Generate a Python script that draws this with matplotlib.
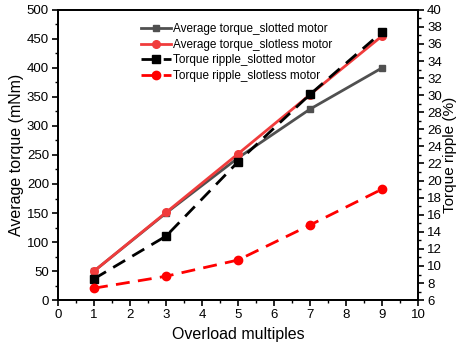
import matplotlib
matplotlib.use("Agg")
import matplotlib.pyplot as plt
from matplotlib.ticker import MultipleLocator

# data
overload = [1, 3, 5, 7, 9]
avg_slotted = [50, 150, 245, 329, 400]
avg_slotless = [50, 151, 252, 354, 455]
ripple_slotted = [8.5, 13.5, 22.2, 30.1, 37.4]
ripple_slotless = [7.4, 8.8, 10.7, 14.8, 19.0]

plt.rcParams['font.family'] = ['Liberation Sans', 'DejaVu Sans']
plt.rcParams['font.size'] = 10

fig, ax = plt.subplots(figsize=(4.57, 3.49), dpi=100)
fig.subplots_adjust(left=0.127, right=0.915, top=0.972, bottom=0.14)
ax2 = ax.twinx()

l1, = ax.plot(overload, avg_slotted, color='#505050', lw=2, marker='s', ms=5,
              label='Average torque_slotted motor')
l2, = ax.plot(overload, avg_slotless, color='#f03c3c', lw=2, marker='o', ms=5.5,
              label='Average torque_slotless motor')
l3, = ax2.plot(overload, ripple_slotted, color='black', lw=2, ls=(0, (5, 3)),
               marker='s', ms=5.5, label='Torque ripple_slotted motor')
l4, = ax2.plot(overload, ripple_slotless, color='#ff0000', lw=2, ls=(0, (5, 3)),
               marker='o', ms=6, label='Torque ripple_slotless motor')

ax.set_xlim(0, 10)
ax.set_ylim(0, 500)
ax2.set_ylim(6, 40)
ax.xaxis.set_major_locator(MultipleLocator(1))
ax.xaxis.set_minor_locator(MultipleLocator(0.5))
ax.yaxis.set_major_locator(MultipleLocator(50))
ax.yaxis.set_minor_locator(MultipleLocator(25))
ax2.yaxis.set_major_locator(MultipleLocator(2))
ax2.yaxis.set_minor_locator(MultipleLocator(1))

for a in (ax, ax2):
    for s in a.spines.values():
        s.set_linewidth(1.3)
    a.tick_params(which='major', direction='out', length=4, width=1.2,
                  labelsize=9.5, pad=2.5)
    a.tick_params(which='minor', direction='out', length=2.5, width=1)

ax.set_xlabel('Overload multiples', fontsize=11.5)
ax.set_ylabel('Average torque (mNm)', fontsize=11.5, labelpad=2)
ax2.set_ylabel('Torque ripple (%)', fontsize=11, labelpad=1)

leg = ax.legend(handles=[l1, l2, l3, l4], loc='upper left',
                bbox_to_anchor=(0.2, 0.99), frameon=False, fontsize=8.5,
                handlelength=2.6, handletextpad=0.1, labelspacing=0.3)

fig.savefig('out.png', dpi=100)
